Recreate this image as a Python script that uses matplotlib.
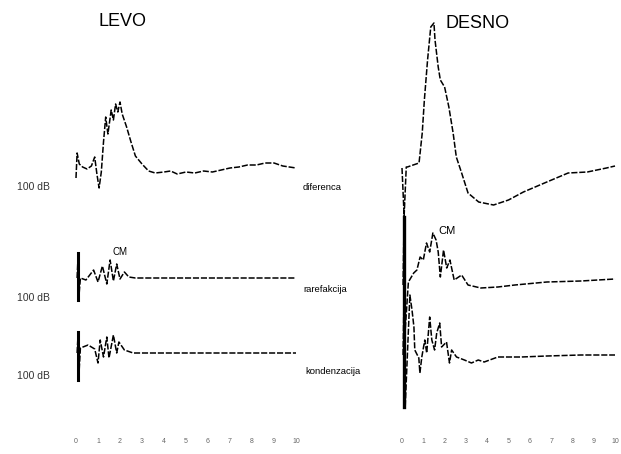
import matplotlib
matplotlib.use("Agg")
import matplotlib.pyplot as plt

# vrijeme u ms i amplitude (proizvoljne jedinice) za LEVO
levo_dif_t = [0.0, 0.05, 0.15, 0.3, 0.5, 0.7, 0.85, 0.95, 1.05, 1.15, 1.25, 1.35, 1.45,
              1.6, 1.7, 1.8, 1.9, 2.0, 2.1, 2.3, 2.5, 2.7, 3.0, 3.3, 3.6, 4.0, 4.3,
              4.6, 5.0, 5.4, 5.8, 6.2, 6.6, 7.0, 7.4, 7.8, 8.2, 8.6, 9.0, 9.4, 10.0]
levo_dif = [-6, 19, 8, 5, 3, 6, 15, -2, -16, 0, 30, 55, 38,
            62, 52, 68, 60, 70, 58, 45, 30, 16, 8, 1, -1, 0, 1,
            -2, 0, -1, 1, 0, 2, 4, 5, 7, 7, 9, 9, 6, 4]

levo_rar_t = [0.05, 0.1, 0.12, 0.2, 0.45, 0.8, 1.0, 1.2, 1.4, 1.55, 1.7, 1.85, 2.0,
              2.2, 2.4, 2.7, 4.0, 6.0, 8.0, 10.0]
levo_rar = [0, 25, -22, 0, -2, 8, -4, 12, -6, 18, -3, 14, -1,
            6, 1, 0, 0, 0, 0, 0]

levo_kon_t = [0.05, 0.1, 0.12, 0.2, 0.55, 0.85, 1.0, 1.1, 1.25, 1.4, 1.5, 1.7, 1.85,
              1.95, 2.2, 2.6, 4.0, 6.0, 8.0, 10.0]
levo_kon = [0, 21, -27, 5, 8, 4, -10, 13, -4, 16, -5, 18, 0,
            11, 3, 0, 0, 0, 0, 0]

# DESNO
desno_dif_t = [0.0, 0.1, 0.2, 0.25, 0.8, 0.95, 1.05, 1.2, 1.35, 1.5, 1.55, 1.7, 1.8,
               2.0, 2.2, 2.4, 2.55, 2.8, 3.1, 3.6, 4.3, 5.0, 5.7, 6.8, 7.8, 8.7,
               9.6, 10.0]
desno_dif = [0, -48, 1, 1, 5, 35, 68, 108, 141, 145, 128, 101, 88,
             81, 61, 35, 11, -5, -25, -34, -37, -32, -24, -14, -5, -4,
             0, 2]

desno_rar_t = [0.05, 0.1, 0.15, 0.3, 0.55, 0.7, 0.85, 1.0, 1.15, 1.3, 1.45, 1.6, 1.7,
               1.8, 1.95, 2.1, 2.25, 2.45, 2.8, 3.1, 3.7, 4.5, 5.3, 6.8, 8.4, 10.0]
desno_rar = [0, 68, -45, 3, 12, 15, 28, 25, 42, 33, 52, 45, 33,
             8, 35, 17, 25, 5, 10, 0, -3, -2, 0, 3, 4, 6]

desno_kon_t = [0.05, 0.1, 0.15, 0.37, 0.47, 0.56, 0.6, 0.79, 0.84, 0.93, 1.07, 1.16,
               1.3, 1.4, 1.53, 1.63, 1.77, 1.86, 2.09, 2.23, 2.33, 2.56, 2.93, 3.26,
               3.58, 3.86, 4.5, 5.6, 6.8, 8.4, 10.0]
desno_kon = [0, 65, -52, 60, 45, 28, 5, -3, -18, -2, 15, 2,
             38, 15, 5, 22, 32, 8, 13, -8, 5, -2, -5, -8,
             -5, -7, -2, -2, -1, 0, 0]

tick_ms = list(range(11))
tick_labels = [str(v) for v in tick_ms]

# nulte linije pojedinih krivulja
baze_levo = {"dif": 282, "rar": 176, "kon": 101}
baze_desno = {"dif": 286, "rar": 169, "kon": 99}

W, H = 621, 454
fig = plt.figure(figsize=(W / 100, H / 100), dpi=100)
plt.rcParams["font.family"] = ["Liberation Sans", "DejaVu Sans"]

ax_l = fig.add_axes([60 / W, 20 / H, 240 / W, 434 / H])
ax_r = fig.add_axes([380 / W, 20 / H, 241 / W, 434 / H])

crta = dict(color="black", lw=1.1, linestyle=(0, (4, 1.2)))


def shift(vals, b):
    return [v + b for v in vals]


ax_l.plot(levo_dif_t, shift(levo_dif, baze_levo["dif"]), **crta)
ax_l.plot(levo_rar_t, shift(levo_rar, baze_levo["rar"]), **crta)
ax_l.plot(levo_kon_t, shift(levo_kon, baze_levo["kon"]), **crta)

ax_r.plot(desno_dif_t, shift(desno_dif, baze_desno["dif"]), **crta)
ax_r.plot(desno_rar_t, shift(desno_rar, baze_desno["rar"]), **crta)
ax_r.plot(desno_kon_t, shift(desno_kon, baze_desno["kon"]), **crta)

# artefakt podražaja - deblja okomita crta
ax_l.plot([levo_rar_t[1]] * 2, [baze_levo["rar"] + levo_rar[1], baze_levo["rar"] + levo_rar[2]],
          color="black", lw=2.2)
ax_l.plot([levo_kon_t[1]] * 2, [baze_levo["kon"] + levo_kon[1], baze_levo["kon"] + levo_kon[2]],
          color="black", lw=2.2)
ax_r.plot([desno_rar_t[1]] * 2, [baze_desno["rar"] + desno_rar[1], baze_desno["kon"] + desno_kon[2]],
          color="black", lw=2.4)

ax_l.set_xlim(-16 / 22, 224 / 22)
ax_r.set_xlim(-22 / 21.3, 219 / 21.3)
for ax in (ax_l, ax_r):
    ax.set_ylim(20, 454)
    ax.set_xticks(tick_ms)
    ax.set_xticklabels(tick_labels, fontsize=5, color="#666666")
    ax.tick_params(axis="x", length=0, pad=3)
    ax.set_yticks([])
    for s in ax.spines.values():
        s.set_visible(False)
    ax.patch.set_alpha(0)

# naslovi i oznake
fig.text(123 / W, 1 - 22 / H, "LEVO", fontsize=13, ha="center", va="center")
fig.text(478 / W, 1 - 23 / H, "DESNO", fontsize=13, ha="center", va="center")

for yp in (187, 298, 376):
    fig.text(33 / W, 1 - yp / H, "100 dB", fontsize=7.5, ha="center", va="center",
             color="#333333")

fig.text(303 / W, 1 - 187 / H, "diferenca", fontsize=6.8, va="center")
fig.text(303 / W, 1 - 290 / H, "rarefakcija", fontsize=6.8, va="center")
fig.text(305 / W, 1 - 372 / H, "kondenzacija", fontsize=6.8, va="center")

fig.text(120 / W, 1 - 252 / H, "CM", fontsize=7, ha="center", va="center")
fig.text(447 / W, 1 - 231 / H, "CM", fontsize=8, ha="center", va="center")

fig.savefig("out.png", dpi=100)
plt.close(fig)
